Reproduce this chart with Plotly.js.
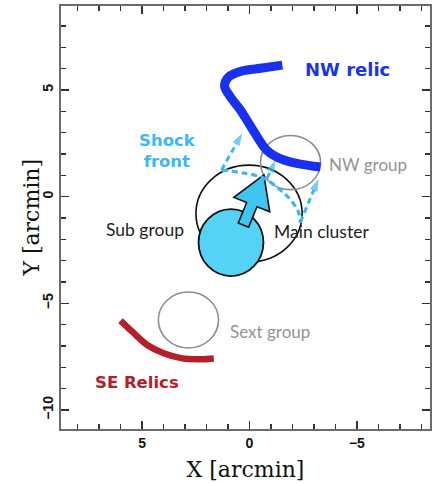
<!DOCTYPE html>
<html><head><meta charset="utf-8">
<script src="https://cdn.plot.ly/plotly-3.0.1.min.js"></script>
<style>html,body{margin:0;padding:0;background:#fff}#chart{width:434px;height:483px}</style>
</head><body><div id="chart"></div>
<script>
// ---- data (arcmin) ----
const groupNames = ['Main cluster', 'Sub group', 'NW group', 'Sext group'];
const groupX  = [0.02, 0.86, -1.91, 2.84];
const groupY  = [-0.79, -2.15, 1.60, -5.78];
const groupRx = [2.47, 1.51, 1.40, 1.40];
const groupRy = [2.27, 1.57, 1.27, 1.31];

const nwRelicX = [-1.53, -0.60, 0.37, 0.98, 1.16, 0.88, 0.42, -0.19, -0.79, -1.26, -1.77, -2.37, -3.30];
const nwRelicY = [6.17, 6.03, 5.89, 5.61, 5.19, 4.67, 4.06, 3.08, 2.19, 1.86, 1.67, 1.53, 1.39];

const seRelicX = [6.00, 5.38, 4.76, 3.99, 3.13, 2.28, 1.66];
const seRelicY = [-5.81, -6.40, -6.95, -7.34, -7.58, -7.62, -7.58];

const shockX = [1.30, 0.28, -0.65, -1.44, -1.91, -2.28, -2.37];
const shockY = [1.25, 1.11, 0.88, 0.31, -0.15, -0.72, -1.23];

// dashed arrows: tail -> tip
const dashTailX = [1.30, -0.82, -2.37];
const dashTailY = [1.25, 0.86, -1.19];
const dashTipX  = [0.34, -1.21, -3.21];
const dashTipY  = [2.97, 1.71, 0.83];

// big motion arrow: tail -> tip
const moveTail = [0.28, -1.33];
const moveTip  = [-0.67, 1.02];

const labelText = ['NW relic', 'Shock<br>front', 'NW group', 'Sub group', 'Main cluster', 'Sext group', 'SE Relics'];
const labelX = [-2.47, 3.81, -3.63, 6.79, -1.07, 0.98, 7.30];
const labelY = [5.94, 2.14, 1.53, -1.56, -1.65, -6.30, -8.69];

const xTickVals = [5, 0, -5];
const yTickVals = [5, 0, -5, -10];

// ---- styles ----
const cyanDash = '#3bb6f0';
const groupLine = ['#111', '#111', '#8c8c8c', '#8c8c8c'];
const groupFill = ['#ffffff', '#55d3f7', 'rgba(0,0,0,0)', 'rgba(0,0,0,0)'];
const groupLW = [1.6, 1.8, 1.6, 1.6];

const shapes = [];
for (let i = 0; i < groupNames.length; i++) {
  shapes.push({type: 'circle', xref: 'x', yref: 'y', layer: 'below',
    x0: groupX[i] - groupRx[i], x1: groupX[i] + groupRx[i],
    y0: groupY[i] - groupRy[i], y1: groupY[i] + groupRy[i],
    line: {color: groupLine[i], width: groupLW[i]}, fillcolor: groupFill[i]});
}
// big arrow polygon
(function () {
  const dx = moveTip[0] - moveTail[0], dy = moveTip[1] - moveTail[1];
  const L = Math.hypot(dx, dy), ux = dx / L, uy = dy / L, px = -uy, py = ux;
  const headL = 1.5, headW = 1.8, shaftW = 0.52;
  const bx = moveTip[0] - ux * headL, by = moveTip[1] - uy * headL;
  const pts = [
    [moveTail[0] + px * shaftW / 2, moveTail[1] + py * shaftW / 2],
    [bx + px * shaftW / 2, by + py * shaftW / 2],
    [bx + px * headW / 2, by + py * headW / 2],
    [moveTip[0], moveTip[1]],
    [bx - px * headW / 2, by - py * headW / 2],
    [bx - px * shaftW / 2, by - py * shaftW / 2],
    [moveTail[0] - px * shaftW / 2, moveTail[1] - py * shaftW / 2]
  ];
  shapes.push({type: 'path', xref: 'x', yref: 'y', layer: 'below',
    path: 'M' + pts.map(p => p[0] + ',' + p[1]).join('L') + 'Z',
    fillcolor: '#3fc5f2', line: {color: '#111', width: 1.6}});
})();

const traces = [];
traces.push({x: shockX, y: shockY, mode: 'lines', type: 'scatter', hoverinfo: 'skip',
  line: {color: cyanDash, width: 3.2, dash: '6px,4px', shape: 'spline'}});
for (let i = 0; i < dashTailX.length; i++) {
  traces.push({x: [dashTailX[i], dashTipX[i]], y: [dashTailY[i], dashTipY[i]],
    mode: 'lines+markers', type: 'scatter', hoverinfo: 'skip',
    line: {color: cyanDash, width: 3, dash: '6px,4px'},
    marker: {symbol: 'arrow', size: [0, 13], color: cyanDash, angleref: 'previous', line: {width: 0}}});
}
traces.push({x: nwRelicX, y: nwRelicY, mode: 'lines', type: 'scatter', hoverinfo: 'skip',
  line: {color: '#1a30f0', width: 9, shape: 'spline'}});
traces.push({x: seRelicX, y: seRelicY, mode: 'lines', type: 'scatter', hoverinfo: 'skip',
  line: {color: '#b3202a', width: 6.5, shape: 'spline'}});

const labelColor = ['#1a35e6', '#3bb8f5', '#939393', '#222', '#222', '#939393', '#b3202a'];
const labelBold = [true, true, false, false, false, false, true];
const labelSize = [18, 16.5, 17, 17.5, 17.5, 17, 16.5];
const annotations = labelText.map((t, i) => ({
  text: t, x: labelX[i], y: labelY[i], xref: 'x', yref: 'y', showarrow: false,
  xanchor: i === 1 ? 'center' : 'left', yanchor: 'middle', align: 'center',
  font: {family: labelBold[i] ? 'DejaVu Sans, sans-serif' : 'Lato, sans-serif', size: labelSize[i],
         color: labelColor[i], weight: labelBold[i] ? 700 : 400}
}));
// y axis title placed as rotated text
annotations.push({text: 'Y [arcmin]', xref: 'paper', yref: 'paper', x: -0.081, y: 0.5,
  xanchor: 'center', yanchor: 'middle', textangle: -90, showarrow: false,
  font: {family: 'DejaVu Serif, serif', size: 22, color: '#111'}});

const axisCommon = {
  showgrid: false, zeroline: false, showline: true, linecolor: '#6b6b6b', linewidth: 2,
  mirror: 'ticks', ticks: 'inside', ticklen: 8, tickwidth: 1.5, tickcolor: '#333',
  minor: {dtick: 1, ticks: 'inside', ticklen: 5, tickwidth: 1.3, tickcolor: '#333'},
  tickfont: {family: 'Liberation Sans, Arial, sans-serif', size: 14, color: '#111', weight: 700}
};

const layout = {
  width: 434, height: 483,
  margin: {l: 61, r: 4, t: 6, b: 54},
  paper_bgcolor: '#fff', plot_bgcolor: '#fff',
  showlegend: false,
  xaxis: Object.assign({}, axisCommon, {
    range: [8.77, -8.40], tickvals: xTickVals, ticktext: xTickVals.map(v => v < 0 ? '\u2212' + Math.abs(v) : String(v)),
    title: {text: 'X [arcmin]', standoff: 12, font: {family: 'DejaVu Serif, serif', size: 22, color: '#111'}}
  }),
  yaxis: Object.assign({}, axisCommon, {
    range: [-10.89, 8.94], tickvals: yTickVals, ticktext: yTickVals.map(v => v < 0 ? '\u2212' + Math.abs(v) : String(v)),
    tickangle: -90
  }),
  shapes: shapes,
  annotations: annotations
};

Plotly.newPlot('chart', traces, layout, {staticPlot: true, displayModeBar: false});
</script>
</body></html>
